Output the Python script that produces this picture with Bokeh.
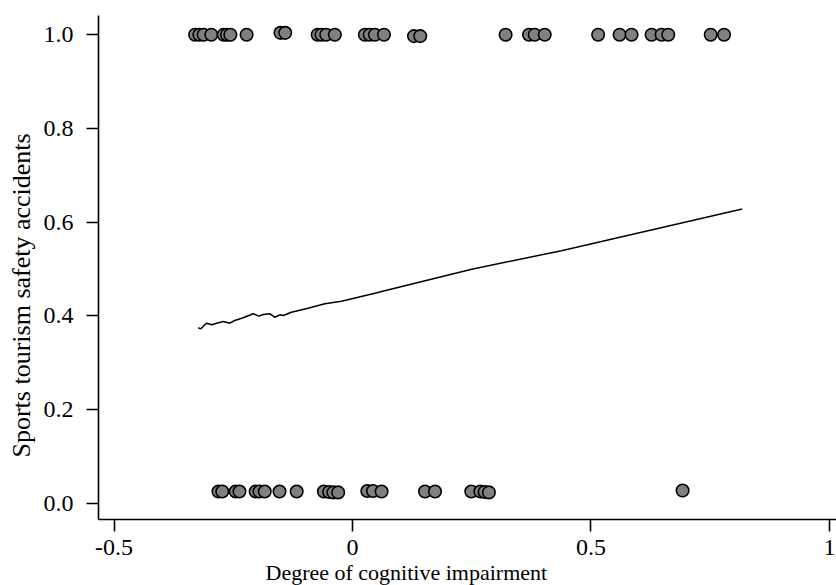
from bokeh.plotting import figure
from bokeh.models import FixedTicker, Range1d, Title
from bokeh.embed import file_html
from bokeh.resources import INLINE

# Observations with outcome = 1 (top row)
top_x = [-0.330, -0.321, -0.312, -0.296, -0.270, -0.263, -0.256, -0.222,
         -0.151, -0.141, -0.073, -0.065, -0.055, -0.037, 0.026, 0.036,
         0.047, 0.066, 0.129, 0.142, 0.321, 0.370, 0.382, 0.403,
         0.515, 0.560, 0.585, 0.627, 0.648, 0.662, 0.751, 0.779]
top_y = [1.0, 1.0, 1.0, 1.0, 1.0, 1.0, 1.0, 1.0,
         1.004, 1.004, 1.0, 1.0, 1.0, 1.0, 1.0, 1.0,
         1.0, 1.0, 0.997, 0.997, 1.0, 1.0, 1.0, 1.0,
         1.0, 1.0, 1.0, 1.0, 1.0, 1.0, 1.0, 1.0]

# Observations with outcome = 0 (bottom row, drawn slightly above 0)
bottom_x = [-0.281, -0.273, -0.245, -0.237, -0.203, -0.195, -0.184, -0.153,
            -0.117, -0.060, -0.049, -0.040, -0.030, 0.031, 0.043, 0.061,
            0.152, 0.173, 0.249, 0.268, 0.277, 0.286, 0.692]
bottom_y = [0.025, 0.025, 0.025, 0.025, 0.025, 0.025, 0.025, 0.025,
            0.025, 0.025, 0.024, 0.023, 0.023, 0.026, 0.026, 0.025,
            0.025, 0.025, 0.025, 0.025, 0.024, 0.023, 0.027]

# Smoothed fit line
fit_x = [-0.3235, -0.318, -0.306, -0.295, -0.285, -0.271, -0.257, -0.247,
         -0.229, -0.208, -0.196, -0.187, -0.173, -0.163, -0.152, -0.145,
         -0.128, -0.093, -0.058, -0.023, 0.012, 0.047, 0.061, 0.25, 0.438, 0.817]
fit_y = [0.3744, 0.3722, 0.3842, 0.3808, 0.3842, 0.3878, 0.3842, 0.3900,
         0.3957, 0.4043, 0.3992, 0.4028, 0.4043, 0.3970, 0.4021, 0.4006,
         0.4077, 0.4162, 0.4256, 0.4312, 0.4397, 0.4482, 0.4519, 0.4994, 0.539, 0.628]

x_ticks = [-0.5, 0, 0.5, 1]
x_tick_labels = ["-0.5", "0", "0.5", "1"]
y_ticks = [0.0, 0.2, 0.4, 0.6, 0.8, 1.0]
y_tick_labels = ["0.0", "0.2", "0.4", "0.6", "0.8", "1.0"]
x_label = "Degree of cognitive impairment"
y_label = "Sports tourism safety accidents"

FONT = "Liberation Serif"

p = figure(frame_width=739, frame_height=504, output_backend="svg", toolbar_location=None,
           x_range=Range1d(-0.5325, 1.0168), y_range=Range1d(-0.0348, 1.041),
           min_border_left=97, min_border_right=0, min_border_top=15, min_border_bottom=0)
p.outline_line_color = None
p.xgrid.visible = False
p.ygrid.visible = False
p.background_fill_color = "white"
p.border_fill_color = "white"

p.line(fit_x, fit_y, line_color="black", line_width=1.5)
p.scatter(top_x, top_y, size=12.5, fill_color="#808080", line_color="black", line_width=1.6)
p.scatter(bottom_x, bottom_y, size=12.5, fill_color="#808080", line_color="black", line_width=1.6)

for ax in (p.xaxis, p.yaxis):
    ax.axis_line_color = "black"
    ax.axis_line_width = 1.6
    ax.major_tick_line_color = "black"
    ax.major_tick_line_width = 1.6
    ax.major_tick_out = 12
    ax.major_tick_in = 0
    ax.minor_tick_line_color = None
    ax.major_label_text_font = FONT
    ax.major_label_text_font_size = "24px"
    ax.major_label_text_color = "black"

p.xaxis.ticker = FixedTicker(ticks=x_ticks)
p.xaxis.major_label_overrides = dict(zip(x_ticks, x_tick_labels))
p.yaxis.ticker = FixedTicker(ticks=y_ticks)
p.yaxis.major_label_overrides = dict(zip(y_ticks, y_tick_labels))
p.xaxis.major_label_standoff = 8
p.yaxis.major_label_standoff = 13

# axis titles, placed off-centre as in the reference
xtitle = Title(text=x_label, align="left", offset=167, standoff=1,
               text_font=FONT, text_font_size="22px", text_font_style="normal",
               text_color="black")
p.add_layout(xtitle, "below")

ytitle = Title(text=y_label, align="left", offset=62, standoff=9,
               text_font=FONT, text_font_size="26px", text_font_style="normal",
               text_color="black")
p.add_layout(ytitle, "left")

open("out.html", "w").write(file_html(p, INLINE))
